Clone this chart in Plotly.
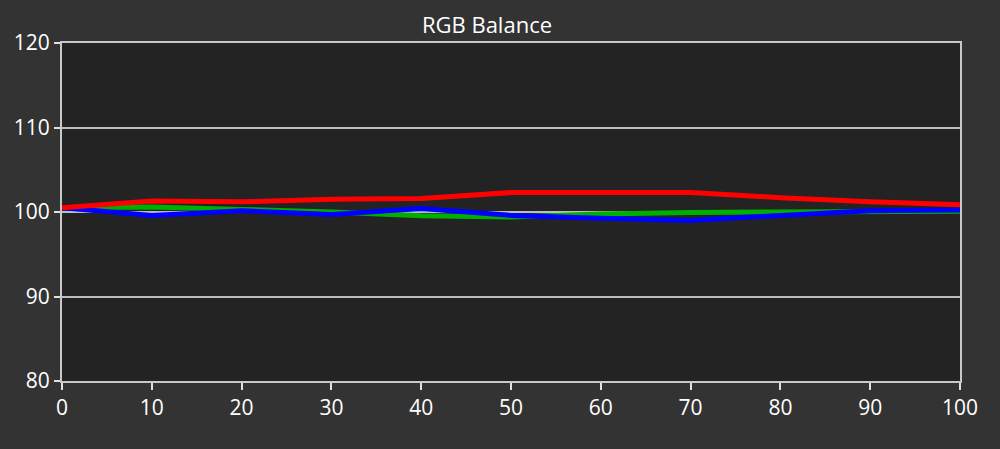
import plotly.graph_objects as go

x_vals = [0, 10, 20, 30, 40, 50, 60, 70, 80, 90, 100]
red = [100.5, 101.3, 101.2, 101.5, 101.6, 102.3, 102.3, 102.3, 101.7, 101.2, 100.85]
green = [100.5, 100.6, 100.3, 100.0, 99.55, 99.4, 99.75, 99.95, 100.0, 100.1, 100.1]
blue = [100.5, 99.6, 100.15, 99.7, 100.4, 99.6, 99.25, 99.0, 99.6, 100.15, 100.25]
x_ticks = [0, 10, 20, 30, 40, 50, 60, 70, 80, 90, 100]
y_ticks = [80, 90, 100, 110, 120]

fig = go.Figure()
for name, vals, col in [("Green", green, "#00b000"), ("Blue", blue, "#0000ff"), ("Red", red, "#ff0000")]:
    fig.add_trace(go.Scatter(x=x_vals, y=vals, mode="lines", name=name,
                             line=dict(color=col, width=5), showlegend=False))

tickfont = dict(family="Open Sans, DejaVu Sans", size=21, color="#ffffff")
axis_common = dict(showline=True, linecolor="#c8c8c8", linewidth=2, mirror=True,
                   ticks="outside", tickcolor="#e0e0e0", tickwidth=2,
                   tickfont=tickfont, zeroline=False)

fig.update_layout(
    width=1000, height=449,
    paper_bgcolor="#333333", plot_bgcolor="#232323",
    margin=dict(l=62, r=40, t=43, b=68),
    title=dict(text="RGB Balance", x=0.487, xanchor="center", y=0.944, yanchor="middle",
               font=dict(family="Open Sans, DejaVu Sans", size=22, color="#ffffff")),
    xaxis=dict(range=[0, 100], tickvals=x_ticks, showgrid=False, ticklen=7, **axis_common),
    yaxis=dict(range=[80, 120], tickvals=y_ticks, showgrid=True, gridcolor="#bdbdbd", gridwidth=2,
               ticklen=6, **axis_common),
)

fig.write_html("out.html", config={"displayModeBar": False},
               post_script="document.body.style.margin='0';document.body.style.overflow='hidden';")
